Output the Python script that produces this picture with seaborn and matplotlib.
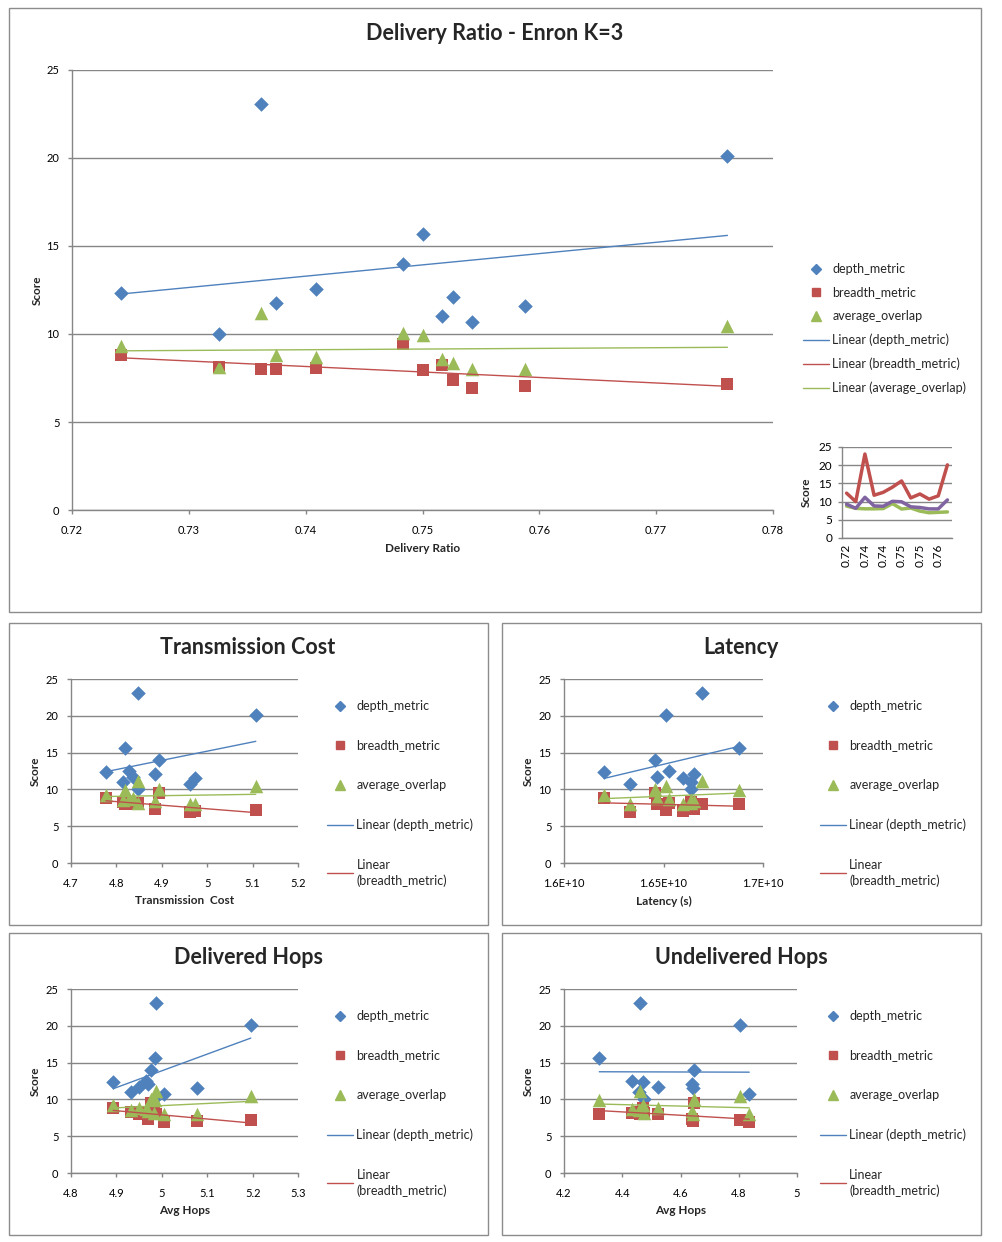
import numpy as np
import pandas as pd
import matplotlib
matplotlib.use('Agg')
import matplotlib.pyplot as plt
from matplotlib.lines import Line2D
from matplotlib.patches import Rectangle
import seaborn as sns

# values, one entry per run (12 runs)
delivery_ratio = [0.7242, 0.7326, 0.7362, 0.7375, 0.7409, 0.7483, 0.7500, 0.7517, 0.7526, 0.7542, 0.7588, 0.7761]
transmission_cost = [4.777, 4.848, 4.848, 4.836, 4.828, 4.894, 4.819, 4.814, 4.885, 4.963, 4.974, 5.107]
latency = [1.6201e10, 1.6640e10, 1.6693e10, 1.6467e10, 1.6529e10, 1.6456e10, 1.6878e10, 1.6640e10, 1.6653e10, 1.6330e10, 1.6598e10, 1.6513e10]
delivered_hops = [4.893, 4.983, 4.987, 4.950, 4.965, 4.976, 4.985, 4.932, 4.969, 5.005, 5.078, 5.196]
undelivered_hops = [4.472, 4.475, 4.460, 4.524, 4.432, 4.648, 4.321, 4.456, 4.641, 4.836, 4.644, 4.805]

depth_metric = [12.32, 9.99, 23.07, 11.75, 12.55, 13.97, 15.67, 11.01, 12.09, 10.67, 11.58, 20.09]
breadth_metric = [8.78, 8.15, 8.02, 8.02, 8.09, 9.46, 7.96, 8.24, 7.39, 6.94, 7.05, 7.16]
average_overlap = [9.29, 8.15, 11.18, 8.81, 8.72, 10.08, 9.95, 8.57, 8.38, 8.00, 8.00, 10.46]

score_ticks = [0, 5, 10, 15, 20, 25]
main_xticks = [0.72, 0.73, 0.74, 0.75, 0.76, 0.77, 0.78]
tc_xticks = [4.7, 4.8, 4.9, 5.0, 5.1, 5.2]
lat_xticks = [1.6e10, 1.65e10, 1.7e10]
lat_xticklabels = ['1.6E+10', '1.65E+10', '1.7E+10']
dh_xticks = [4.8, 4.9, 5.0, 5.1, 5.2, 5.3]
uh_xticks = [4.2, 4.4, 4.6, 4.8, 5.0]

BLUE = '#4F81BD'
RED = '#C0504D'
GREEN = '#9BBB59'
PURPLE = '#8064A2'
GRID = '#868686'

sns.set_theme(style='white')
plt.rcParams['font.family'] = ['Lato', 'DejaVu Sans']

W, H = 1002, 1242
fig = plt.figure(figsize=(W / 100, H / 100), dpi=100)
fig.patch.set_facecolor('white')


def px_axes(left, top, right, bottom):
    return fig.add_axes([left / W, 1 - bottom / H, (right - left) / W, (bottom - top) / H])


def frame(left, top, right, bottom):
    fig.patches.append(Rectangle((left / W, 1 - bottom / H), (right - left) / W, (bottom - top) / H,
                                 transform=fig.transFigure, fill=False, edgecolor='#8c8c8c', lw=1))


def style(ax):
    ax.set_ylim(0, 25)
    ax.set_yticks(score_ticks)
    ax.yaxis.grid(True, color=GRID, lw=1)
    ax.xaxis.grid(False)
    ax.set_axisbelow(True)
    for s in ['top', 'right']:
        ax.spines[s].set_visible(False)
    for s in ['left', 'bottom']:
        ax.spines[s].set_color(GRID)
        ax.spines[s].set_linewidth(1)
    ax.tick_params(labelsize=8, colors='black', length=3, width=1, direction='out',
                   left=True, bottom=True)
    ax.tick_params(axis='y', pad=6)
    ax.tick_params(axis='x', pad=8)
    ax.tick_params(color=GRID)


def scatter_panel(ax, x):
    df = pd.DataFrame({'x': x, 'depth_metric': depth_metric,
                       'breadth_metric': breadth_metric, 'average_overlap': average_overlap})
    sns.scatterplot(data=df, x='x', y='depth_metric', ax=ax, color=BLUE, marker='D', s=55,
                    linewidth=0, zorder=3)
    sns.scatterplot(data=df, x='x', y='breadth_metric', ax=ax, color=RED, marker='s', s=80,
                    linewidth=0, zorder=3)
    sns.scatterplot(data=df, x='x', y='average_overlap', ax=ax, color=GREEN, marker='^', s=95,
                    linewidth=0, zorder=3)
    for col, c in [('depth_metric', BLUE), ('breadth_metric', RED), ('average_overlap', GREEN)]:
        sns.regplot(data=df, x='x', y=col, ax=ax, scatter=False, ci=None, truncate=True,
                    color=c, line_kws={'lw': 1, 'zorder': 4})
    style(ax)
    ax.set_ylabel('')
    ax.set_xlabel('')


def legend(items):
    handles = []
    for kind, c in items:
        if kind == 'line':
            handles.append(Line2D([], [], color=c, lw=1))
        else:
            handles.append(Line2D([], [], color=c, marker=kind, ls='none',
                                  markersize=5.5 if kind != '^' else 6.5))
    return handles


def add_legend(labels, handles, x, y, spacing):
    leg = fig.legend(handles, labels, loc='upper left', bbox_to_anchor=(x / W, 1 - y / H),
                     frameon=False, fontsize=9, labelspacing=spacing, handlelength=2.1,
                     handletextpad=0.25, borderpad=0, borderaxespad=0)
    for t in leg.get_texts():
        t.set_linespacing(1.35)
    return leg


def axis_labels(ax, xlabel, xl_y, yl_x, box):
    left, top, right, bottom = box
    ax.set_xlabel(xlabel, fontsize=8.5, weight='bold', va='center')
    ax.xaxis.set_label_coords(0.5, (bottom - xl_y) / (bottom - top))
    ax.set_ylabel('Score', fontsize=8.5, weight='bold', va='center')
    ax.yaxis.set_label_coords((yl_x - left) / (right - left), 0.5)


# panel frames
frame(9, 8, 981, 612)
frame(9, 623, 488, 925)
frame(502, 623, 981, 925)
frame(9, 933, 488, 1235)
frame(502, 933, 981, 1235)

# ---- main chart ----
box = (72, 70, 773, 510)
ax = px_axes(*box)
scatter_panel(ax, delivery_ratio)
ax.set_xlim(0.72, 0.78)
ax.set_xticks(main_xticks)
ax.set_xticklabels([f'{v:.2f}' for v in main_xticks])
axis_labels(ax, 'Delivery Ratio', 548, 37, box)
fig.text(495 / W, 1 - 33 / H, 'Delivery Ratio - Enron K=3', ha='center', va='center',
         fontsize=15.5, weight='bold')

main_labels = ['depth_metric', 'breadth_metric', 'average_overlap', 'Linear (depth_metric)',
               'Linear (breadth_metric)', 'Linear (average_overlap)']
main_handles = legend([('D', BLUE), ('s', RED), ('^', GREEN), ('line', BLUE), ('line', RED),
                       ('line', GREEN)])
add_legend(main_labels, main_handles, 803, 263, 0.92)

# ---- inset line chart ----
ibox = (842, 447, 952, 538)
ax_in = px_axes(*ibox)
cats = np.arange(len(delivery_ratio))
line_df = pd.DataFrame({'cat': cats, 'depth_metric': depth_metric,
                        'breadth_metric': breadth_metric, 'average_overlap': average_overlap})
sns.lineplot(data=line_df, x='cat', y='depth_metric', ax=ax_in, color=RED, lw=2.5)
sns.lineplot(data=line_df, x='cat', y='breadth_metric', ax=ax_in, color=GREEN, lw=2.5)
sns.lineplot(data=line_df, x='cat', y='average_overlap', ax=ax_in, color=PURPLE, lw=2.5)
style(ax_in)
ax_in.set_xlim(-0.5, len(cats) - 0.5)
ax_in.set_xticks(cats[::2])
ax_in.set_xticklabels([f'{v:.2f}' for v in delivery_ratio[::2]], rotation=90)
ax_in.tick_params(axis='x', length=0, pad=4, labelsize=8.5)
ax_in.tick_params(axis='y', labelsize=8.5, pad=4)
ax_in.set_xlabel('')
ax_in.set_ylabel('Score', fontsize=8.5, weight='bold', va='center')
ax_in.yaxis.set_label_coords((806 - 842) / (952 - 842), 0.5)

# ---- small charts ----
small_labels = ['depth_metric', 'breadth_metric', 'average_overlap', 'Linear (depth_metric)',
                'Linear\n(breadth_metric)']
small_items = [('D', BLUE), ('s', RED), ('^', GREEN), ('line', BLUE), ('line', RED)]

panels = [
    ('Transmission Cost', 'Transmission  Cost', transmission_cost, (71, 679, 298, 863), (4.7, 5.2),
     tc_xticks, None, 248, 648, 327, 700),
    ('Latency', 'Latency (s)', latency, (564, 679, 763, 863), (1.6e10, 1.7e10),
     lat_xticks, lat_xticklabels, 741, 648, 820, 700),
    ('Delivered Hops', 'Avg Hops', delivered_hops, (71, 989, 298, 1173), (4.8, 5.3),
     dh_xticks, None, 248, 958, 327, 1010),
    ('Undelivered Hops', 'Avg Hops', undelivered_hops, (564, 989, 797, 1173), (4.2, 5.0),
     uh_xticks, None, 741, 958, 820, 1010),
]

for title, xlabel, xs, pbox, xlim, xticks, xtl, tx, ty, lx, ly in panels:
    a = px_axes(*pbox)
    scatter_panel(a, xs)
    a.set_xlim(*xlim)
    a.set_xticks(xticks)
    if xtl is None:
        a.set_xticklabels([f'{v:g}' for v in xticks])
    else:
        a.set_xticklabels(xtl)
    axis_labels(a, xlabel, pbox[3] + 38, pbox[0] - 36, pbox)
    fig.text(tx / W, 1 - ty / H, title, ha='center', va='center', fontsize=15.5, weight='bold')
    add_legend(small_labels, legend(small_items), lx, ly, 2.2)

fig.savefig('out.png', dpi=100, facecolor='white')
